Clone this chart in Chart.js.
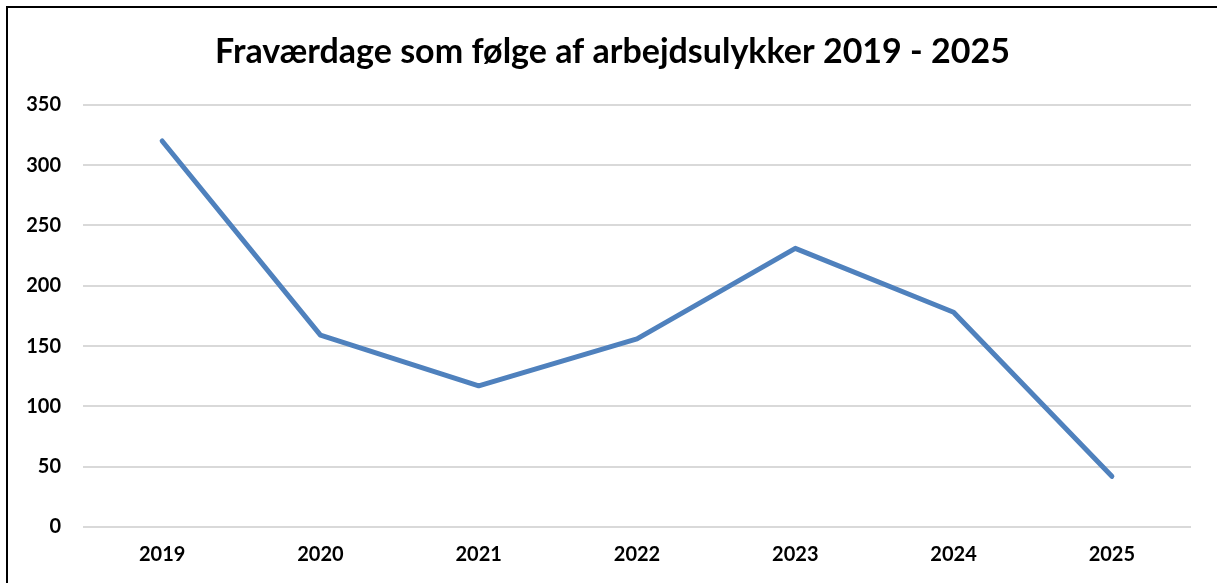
<!DOCTYPE html>
<html>
<head>
<meta charset="utf-8">
<script src="https://cdn.jsdelivr.net/npm/chart.js@4.4.1/dist/chart.umd.min.js"></script>
<style>
  html, body { margin: 0; padding: 0; background: #fff; }
  .frame {
    position: absolute;
    left: 6px;
    top: 6px;
    border-left: 2px solid #000;
    border-top: 2px solid #000;
  }
  canvas { display: block; }
</style>
</head>
<body>
<div class="frame">
  <canvas id="fravaerChart" width="1209" height="575"></canvas>
</div>
<script>
// Data
const years = ['2019', '2020', '2021', '2022', '2023', '2024', '2025'];
const absenceDays = [320, 159, 117, 156, 231, 178, 42];
const yTicks = [0, 50, 100, 150, 200, 250, 300, 350];

const titleText = 'Fraværdage som følge af arbejdsulykker 2019 - 2025';

const ctx = document.getElementById('fravaerChart').getContext('2d');
new Chart(ctx, {
    type: 'line',
    data: {
        labels: years,
        datasets: [{
            data: absenceDays,
            borderColor: '#4f81bd',
            borderWidth: 5,
            borderCapStyle: 'round',
            borderJoinStyle: 'round',
            pointRadius: 0,
            tension: 0,
            fill: false
        }]
    },
    options: {
        responsive: false,
        animation: false,
        layout: {
            padding: { left: 0, right: 0, top: 0, bottom: 0 }
        },
        plugins: {
            legend: { display: false },
            tooltip: { enabled: false },
            title: {
                display: true,
                text: titleText,
                color: '#000',
                font: { family: 'Lato', size: 34, weight: 'bold' },
                padding: { top: 24, bottom: 32 }
            }
        },
        scales: {
            x: {
                offset: true,
                // keep the plot's right edge in from the canvas edge, title stays centred on full width
                afterFit: (scale) => { scale.paddingRight = 26; },
                grid: { display: false, drawTicks: false },
                border: { display: false },
                ticks: {
                    color: '#000',
                    padding: 16,
                    font: { family: 'Lato', size: 20, weight: 'bold' }
                }
            },
            y: {
                min: yTicks[0],
                max: yTicks[yTicks.length - 1],
                afterBuildTicks: (scale) => {
                    scale.ticks = yTicks.map(v => ({ value: v }));
                },
                afterFit: (scale) => { scale.width = 75; },
                grid: { color: '#d9d9d9', lineWidth: 2, drawTicks: false },
                border: { display: false },
                ticks: {
                    color: '#000',
                    padding: 22,
                    font: { family: 'Lato', size: 20, weight: 'bold' }
                }
            }
        }
    }
});
</script>
</body>
</html>
